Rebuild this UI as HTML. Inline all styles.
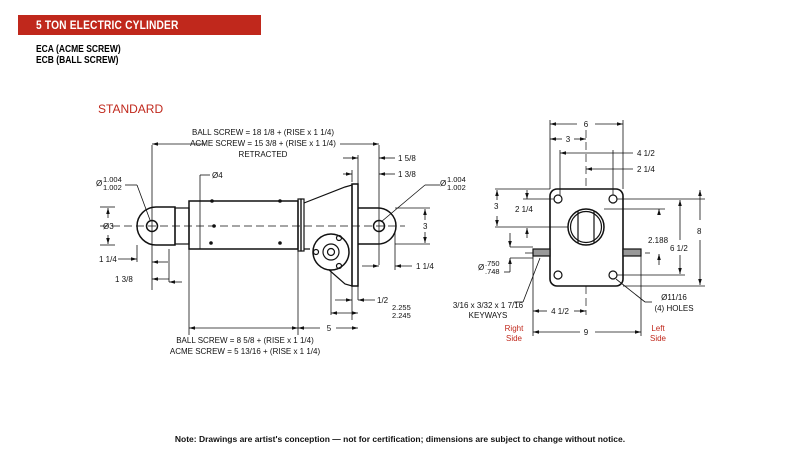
<!DOCTYPE html>
<html><head><meta charset="utf-8"><style>
body{margin:0;background:#fff;width:800px;height:460px;overflow:hidden;position:relative;font-family:"Liberation Sans",sans-serif}
.bar{position:absolute;left:18px;top:15px;width:243px;height:20px;background:#c0281c;}
.bar span{position:absolute;left:18px;top:3px;color:#fff;font-weight:bold;font-size:12px;transform:scaleX(0.85);transform-origin:left;letter-spacing:0.2px}
.sub{position:absolute;left:36px;top:44px;font-size:10px;font-weight:bold;line-height:11px;transform:scaleX(0.85);transform-origin:left}
svg{position:absolute;left:0;top:0}
</style></head><body>
<div class="bar"><span>5 TON ELECTRIC CYLINDER</span></div>
<div class="sub">ECA (ACME SCREW)<br>ECB (BALL SCREW)</div>
<svg width="800" height="460" font-family="Liberation Sans, sans-serif" font-size="8" fill="#111">
<defs><marker id="a" viewBox="0 0 10 6" refX="10" refY="3" markerWidth="8" markerHeight="4.5" orient="auto-start-reverse"><path d="M0,0L10,3L0,6z" fill="#111"/></marker></defs>
<text x="98" y="113" font-size="12" fill="#c0281c">STANDARD</text>
<g stroke="#111" fill="none" stroke-width="1.2">
<!-- side view -->
<line x1="100" y1="226" x2="405" y2="226" stroke-dasharray="8,4" stroke-width="0.7"/>
<path d="M175,207 L156,207 A19,19 0 0 0 156,245 L175,245 Z" stroke-width="1.5"/>
<circle cx="152" cy="226" r="5.5" stroke-width="1.5"/>
<rect x="175" y="208" width="14" height="36"/>
<rect x="189" y="201" width="109" height="48" stroke-width="1.5"/>
<rect x="298" y="199" width="3" height="52"/><rect x="301" y="199" width="3" height="52"/>
<path d="M304,203 L345,187 L352,185 L352,286 L345,284 L320,262 M304,249 L310,249"/>
<rect x="352" y="184" width="6" height="102" stroke-width="1.5"/>
<path d="M358,208 L378,208 A18,18 0 0 1 378,244 L358,244" stroke-width="1.5"/>
<circle cx="379" cy="226" r="5.5" stroke-width="1.5"/>
<circle cx="331" cy="252" r="18" fill="#fff" stroke-width="1.5"/>
<circle cx="331" cy="252" r="8"/><circle cx="331" cy="252" r="3.5"/>
<circle cx="339" cy="238" r="2.5"/><circle cx="339" cy="266" r="2.5"/><circle cx="316" cy="252" r="2.5"/>
<g fill="#111" stroke="none"><circle cx="212" cy="201" r="1.8"/><circle cx="280" cy="201" r="1.8"/><circle cx="214" cy="226" r="1.8"/><circle cx="211" cy="243" r="1.8"/><circle cx="280" cy="243" r="1.8"/></g>
<g stroke-width="0.8">
<line x1="152" y1="145" x2="152" y2="290"/><line x1="379" y1="145" x2="379" y2="265"/>
<line x1="152" y1="144" x2="205" y2="144" marker-start="url(#a)"/><line x1="340" y1="144" x2="379" y2="144" marker-end="url(#a)"/>
<line x1="100" y1="207" x2="115" y2="207"/><line x1="100" y1="245" x2="115" y2="245"/>
<line x1="108" y1="208" x2="108" y2="218" marker-start="url(#a)"/><line x1="108" y1="235" x2="108" y2="244" marker-end="url(#a)"/>
<line x1="200" y1="175" x2="200" y2="249"/><line x1="200" y1="175" x2="210" y2="175"/>
<line x1="137" y1="245" x2="137" y2="262"/><line x1="118" y1="259" x2="137" y2="259" marker-end="url(#a)"/>
<line x1="168" y1="262" x2="152" y2="262" marker-end="url(#a)"/>
<line x1="169" y1="279" x2="152" y2="279" marker-end="url(#a)"/>
<line x1="169" y1="249" x2="169" y2="282"/><line x1="182" y1="282" x2="169" y2="282" marker-end="url(#a)"/>
<line x1="358" y1="155" x2="358" y2="200"/><line x1="352" y1="170" x2="352" y2="182"/>
<line x1="343" y1="158" x2="358" y2="158" marker-end="url(#a)"/><line x1="395" y1="158" x2="379" y2="158" marker-end="url(#a)"/>
<line x1="343" y1="174" x2="352" y2="174" marker-end="url(#a)"/><line x1="395" y1="174" x2="379" y2="174" marker-end="url(#a)"/>
<line x1="395" y1="208" x2="430" y2="208"/><line x1="395" y1="244" x2="430" y2="244"/>
<line x1="425" y1="209" x2="425" y2="220" marker-start="url(#a)"/><line x1="425" y1="232" x2="425" y2="243" marker-end="url(#a)"/>
<line x1="395" y1="232" x2="395" y2="270"/><line x1="362" y1="266" x2="379" y2="266" marker-end="url(#a)"/>
<line x1="412" y1="266" x2="395" y2="266" marker-end="url(#a)"/>
<line x1="331" y1="270" x2="331" y2="315"/><line x1="352" y1="286" x2="352" y2="320"/><line x1="358" y1="286" x2="358" y2="300"/>
<line x1="335" y1="300" x2="352" y2="300" marker-end="url(#a)"/><line x1="375" y1="300" x2="358" y2="300" marker-end="url(#a)"/>
<line x1="331" y1="313" x2="358" y2="313" marker-start="url(#a)" marker-end="url(#a)"/>
<line x1="189" y1="249" x2="189" y2="335"/><line x1="298" y1="251" x2="298" y2="335"/>
<line x1="189" y1="328" x2="298" y2="328" marker-start="url(#a)" marker-end="url(#a)"/>
<line x1="298" y1="328" x2="320" y2="328" marker-start="url(#a)"/><line x1="336" y1="328" x2="358" y2="328" marker-end="url(#a)"/>
<line x1="125" y1="185" x2="137" y2="185"/><line x1="137" y1="185" x2="150" y2="220"/>
<line x1="440" y1="185" x2="425" y2="185"/><line x1="425" y1="185" x2="381" y2="222"/>
</g>
<!-- end view -->
<line x1="586" y1="130" x2="586" y2="315" stroke-dasharray="8,4" stroke-width="0.7"/>
<line x1="525" y1="253" x2="650" y2="253" stroke-dasharray="8,4" stroke-width="0.7"/>
<rect x="550" y="189" width="73" height="97" rx="7" stroke-width="1.6" fill="#fff"/>
<circle cx="558" cy="199" r="4"/><circle cx="613" cy="199" r="4"/><circle cx="558" cy="275" r="4"/><circle cx="613" cy="275" r="4"/>
<circle cx="586" cy="227" r="18" stroke-width="1.5"/><circle cx="586" cy="227" r="15.5"/>
<path d="M578,211 L578,243 M594,211 L594,243"/>
<rect x="533" y="249" width="17" height="7" fill="#999"/><rect x="623" y="249" width="18" height="7" fill="#999"/>
<g stroke-width="0.8">
<line x1="550" y1="120" x2="550" y2="189"/><line x1="623" y1="120" x2="623" y2="189"/>
<line x1="550" y1="124" x2="577" y2="124" marker-start="url(#a)"/><line x1="595" y1="124" x2="623" y2="124" marker-end="url(#a)"/>
<line x1="550" y1="139" x2="562" y2="139" marker-start="url(#a)"/><line x1="574" y1="139" x2="586" y2="139" marker-end="url(#a)"/>
<line x1="560" y1="150" x2="560" y2="195"/><line x1="613" y1="150" x2="613" y2="195"/>
<line x1="560" y1="153" x2="633" y2="153" marker-start="url(#a)"/><line x1="586" y1="169" x2="633" y2="169" marker-start="url(#a)"/>
<line x1="495" y1="189" x2="550" y2="189"/><line x1="495" y1="227" x2="568" y2="227"/><line x1="523" y1="199" x2="554" y2="199"/>
<line x1="497" y1="190" x2="497" y2="200" marker-start="url(#a)"/><line x1="497" y1="216" x2="497" y2="226" marker-end="url(#a)"/>
<line x1="527" y1="190" x2="527" y2="199" marker-end="url(#a)"/><line x1="527" y1="238" x2="527" y2="228" marker-end="url(#a)"/>
<line x1="510" y1="247" x2="533" y2="247"/><line x1="510" y1="258" x2="533" y2="258"/>
<line x1="510" y1="233" x2="510" y2="247" marker-end="url(#a)"/><line x1="510" y1="272" x2="510" y2="258" marker-end="url(#a)"/>
<line x1="504" y1="272" x2="510" y2="272"/>
<line x1="604" y1="209" x2="665" y2="209"/><line x1="617" y1="199" x2="705" y2="199"/><line x1="617" y1="275" x2="685" y2="275"/><line x1="623" y1="286" x2="705" y2="286"/>
<line x1="659" y1="212" x2="659" y2="209" marker-end="url(#a)"/><line x1="659" y1="265" x2="659" y2="254" marker-end="url(#a)"/>
<line x1="680" y1="240" x2="680" y2="200" marker-end="url(#a)"/><line x1="680" y1="255" x2="680" y2="274" marker-end="url(#a)"/>
<line x1="700" y1="220" x2="700" y2="190" marker-end="url(#a)"/><line x1="700" y1="240" x2="700" y2="285" marker-end="url(#a)"/>
<line x1="533" y1="256" x2="533" y2="336"/><line x1="641" y1="256" x2="641" y2="336"/>
<line x1="533" y1="311" x2="547" y2="311" marker-start="url(#a)"/><line x1="574" y1="311" x2="586" y2="311" marker-end="url(#a)"/>
<line x1="533" y1="332" x2="580" y2="332" marker-start="url(#a)"/><line x1="595" y1="332" x2="641" y2="332" marker-end="url(#a)"/>
<line x1="514" y1="302" x2="523" y2="302"/><line x1="523" y1="302" x2="540" y2="258"/>
<line x1="652" y1="302" x2="645" y2="302"/><line x1="645" y1="302" x2="616" y2="279"/>
</g>
</g>
<g text-anchor="middle">
<text x="263" y="135">BALL SCREW = 18 1/8 + (RISE x 1 1/4)</text>
<text x="263" y="146">ACME SCREW = 15 3/8 + (RISE x 1 1/4)</text>
<text x="263" y="157">RETRACTED</text>
<text x="245" y="343">BALL SCREW = 8 5/8 + (RISE x 1 1/4)</text>
<text x="245" y="354">ACME SCREW = 5 13/16 + (RISE x 1 1/4)</text>
<text x="329" y="331">5</text>
<text x="586" y="127">6</text><text x="568" y="142">3</text><text x="586" y="335">9</text><text x="560" y="314">4 1/2</text>
<text x="488" y="308">3/16 x 3/32 x 1 7/16</text><text x="488" y="318">KEYWAYS</text>
<text x="674" y="300">Ø11/16</text><text x="674" y="311">(4) HOLES</text>
<text x="514" y="331" fill="#c0281c">Right</text><text x="514" y="341" fill="#c0281c">Side</text>
<text x="658" y="331" fill="#c0281c">Left</text><text x="658" y="341" fill="#c0281c">Side</text>
</g>
<text x="212" y="178">Ø4</text>
<text x="103" y="229">Ø3</text>
<text x="96" y="186">Ø</text><text x="103" y="182" font-size="7.5">1.004</text><text x="103" y="190" font-size="7.5">1.002</text>
<text x="440" y="186">Ø</text><text x="447" y="182" font-size="7.5">1.004</text><text x="447" y="190" font-size="7.5">1.002</text>
<text x="99" y="262">1 1/4</text><text x="115" y="282">1 3/8</text>
<text x="398" y="161">1 5/8</text><text x="398" y="177">1 3/8</text>
<text x="423" y="229">3</text><text x="416" y="269">1 1/4</text>
<text x="377" y="303">1/2</text><text x="392" y="310" font-size="7.5">2.255</text><text x="392" y="318" font-size="7.5">2.245</text>
<text x="637" y="156">4 1/2</text><text x="637" y="172">2 1/4</text>
<text x="494" y="209">3</text><text x="515" y="212">2 1/4</text>
<text x="478" y="270">Ø</text><text x="485" y="266" font-size="7.5">.750</text><text x="485" y="274" font-size="7.5">.748</text>
<text x="648" y="243">2.188</text><text x="670" y="251">6 1/2</text><text x="697" y="234">8</text>
<text x="400" y="442" text-anchor="middle" font-size="8.5" font-weight="bold">Note: Drawings are artist's conception — not for certification; dimensions are subject to change without notice.</text>
</svg>
</body></html>
